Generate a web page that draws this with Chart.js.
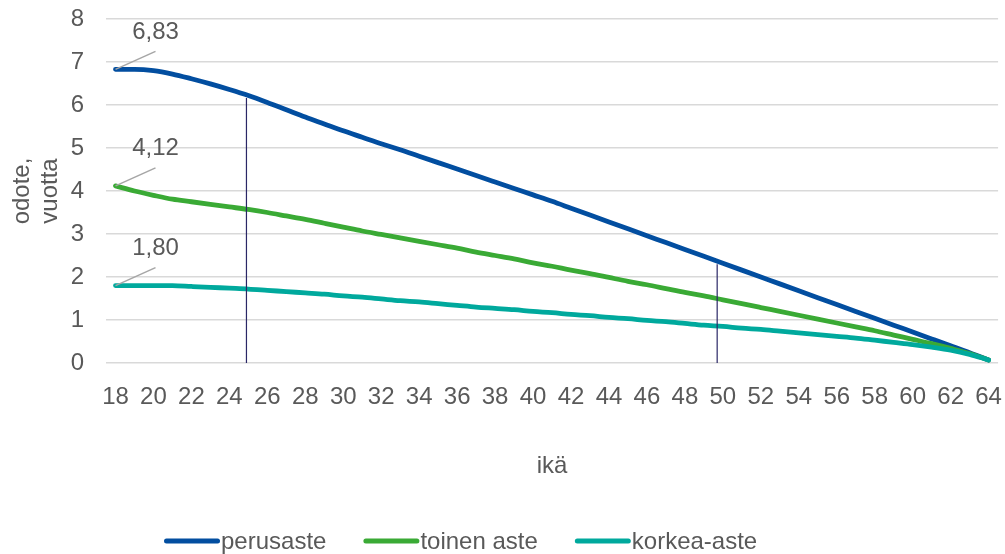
<!DOCTYPE html>
<html>
<head>
<meta charset="utf-8">
<script src="https://cdn.jsdelivr.net/npm/chart.js@4"></script>
<style>
  html, body { margin: 0; padding: 0; background: #fff; }
  #wrap { width: 1005px; height: 554px; }
</style>
</head>
<body>
<div id="wrap"><canvas id="odoteChart" width="1005" height="554"></canvas></div>
<script>
// ikä 18..64
const ages = [];
for (let a = 18; a <= 64; a++) ages.push(String(a));

const perusaste = [6.83, 6.83, 6.80, 6.72, 6.61, 6.49, 6.36, 6.22, 6.06, 5.89,
  5.72, 5.56, 5.40, 5.25, 5.10, 4.96, 4.81, 4.66, 4.51, 4.36,
  4.21, 4.06, 3.91, 3.76, 3.60, 3.44, 3.28, 3.12, 2.96, 2.80,
  2.64, 2.48, 2.32, 2.16, 2.00, 1.84, 1.68, 1.52, 1.36, 1.20,
  1.04, 0.88, 0.72, 0.56, 0.40, 0.24, 0.07];
const toinenAste = [4.12, 4.00, 3.90, 3.81, 3.75, 3.69, 3.63, 3.57, 3.50, 3.42,
  3.34, 3.25, 3.16, 3.07, 2.99, 2.91, 2.83, 2.75, 2.67, 2.58,
  2.50, 2.42, 2.33, 2.25, 2.16, 2.08, 1.99, 1.90, 1.82, 1.73,
  1.64, 1.56, 1.47, 1.38, 1.29, 1.20, 1.11, 1.02, 0.93, 0.84,
  0.75, 0.65, 0.55, 0.45, 0.34, 0.22, 0.07];
const korkeaAste = [1.80, 1.80, 1.80, 1.80, 1.78, 1.76, 1.74, 1.72, 1.69, 1.66,
  1.63, 1.60, 1.56, 1.53, 1.49, 1.45, 1.42, 1.38, 1.34, 1.30,
  1.27, 1.24, 1.20, 1.17, 1.13, 1.10, 1.06, 1.03, 0.99, 0.96,
  0.92, 0.88, 0.85, 0.81, 0.78, 0.74, 0.70, 0.66, 0.62, 0.58,
  0.53, 0.48, 0.43, 0.37, 0.30, 0.20, 0.07];

const seriesNames = ['perusaste', 'toinen aste', 'korkea-aste'];
const seriesColors = ['#024ea0', '#3aaa35', '#00a99d'];
const yTicks = [0, 1, 2, 3, 4, 5, 6, 7, 8];
// pystyviivat perusasteen käyrältä nollaan
const markerAges = [24.9, 49.7];

const textColor = '#595959';
const fontFamily = '"Liberation Sans", Arial, sans-serif';
const fontSize = 24;

function fmt(v) {
  return v.toFixed(2).replace('.', ',');
}

// arvo murtoindeksin kohdalla
function valueAt(data, idx) {
  const i = Math.floor(idx);
  const t = idx - i;
  if (i >= data.length - 1) return data[data.length - 1];
  return data[i] + (data[i + 1] - data[i]) * t;
}

const markerLines = {
  id: 'markerLines',
  afterDatasetsDraw(chart) {
    const { ctx, scales: { x, y } } = chart;
    ctx.save();
    ctx.strokeStyle = '#2a2766';
    ctx.lineWidth = 1.2;
    markerAges.forEach(age => {
      const idx = age - 18;
      const px = x.getPixelForValue(idx);
      ctx.beginPath();
      ctx.moveTo(px, y.getPixelForValue(valueAt(perusaste, idx)) + 3);
      ctx.lineTo(px, y.getPixelForValue(0));
      ctx.stroke();
    });
    ctx.restore();
  }
};

// alkupisteen arvot ja johtoviivat
const startLabels = {
  id: 'startLabels',
  afterDatasetsDraw(chart) {
    const { ctx } = chart;
    ctx.save();
    chart.data.datasets.forEach((ds, i) => {
      const pt = chart.getDatasetMeta(i).data[0];
      ctx.strokeStyle = '#a6a6a6';
      ctx.lineWidth = 1.5;
      ctx.beginPath();
      ctx.moveTo(pt.x, pt.y);
      ctx.lineTo(pt.x + 40, pt.y - 18);
      ctx.stroke();
      ctx.fillStyle = textColor;
      ctx.font = fontSize + 'px ' + fontFamily;
      ctx.textAlign = 'center';
      ctx.textBaseline = 'middle';
      ctx.fillText(fmt(ds.data[0]), pt.x + 40, pt.y - 37);
    });
    ctx.restore();
  }
};

const bottomLegend = {
  id: 'bottomLegend',
  afterDraw(chart) {
    const { ctx } = chart;
    ctx.save();
    ctx.font = fontSize + 'px ' + fontFamily;
    ctx.textBaseline = 'middle';
    ctx.textAlign = 'left';
    let x = 164;
    const y = 541;
    seriesNames.forEach((name, i) => {
      ctx.strokeStyle = seriesColors[i];
      ctx.lineWidth = 5;
      ctx.lineCap = 'round';
      ctx.beginPath();
      ctx.moveTo(x + 2.5, y);
      ctx.lineTo(x + 53.5, y);
      ctx.stroke();
      ctx.fillStyle = textColor;
      ctx.fillText(name, x + 57, y + 1);
      x += 57 + ctx.measureText(name).width + 37;
    });
    ctx.restore();
  }
};

const seriesData = [perusaste, toinenAste, korkeaAste];

new Chart(document.getElementById('odoteChart').getContext('2d'), {
  type: 'line',
  data: {
    labels: ages,
    datasets: seriesData.map((d, i) => ({
      label: seriesNames[i],
      data: d,
      borderColor: seriesColors[i],
      backgroundColor: seriesColors[i],
      borderWidth: 4.8,
      borderCapStyle: 'round',
      borderJoinStyle: 'round',
      pointRadius: 0,
      cubicInterpolationMode: 'monotone',
      order: 3 - i
    }))
  },
  options: {
    responsive: false,
    animation: false,
    layout: { padding: { top: 19, right: 6, left: 0, bottom: 0 } },
    plugins: {
      legend: { display: false },
      tooltip: { enabled: false }
    },
    scales: {
      x: {
        offset: true,
        grid: { display: false, drawTicks: true, tickLength: 17 },
        border: { display: false },
        ticks: {
          autoSkip: false,
          maxRotation: 0,
          padding: 3,
          color: textColor,
          font: { size: fontSize, family: fontFamily },
          callback: (v, i) => (i % 2 === 0 ? ages[i] : '')
        },
        title: {
          display: true,
          text: 'ikä',
          color: textColor,
          font: { size: fontSize, family: fontFamily },
          padding: { top: 0, bottom: 73 }
        },
        afterFit: s => { s.height = 191; }
      },
      y: {
        min: 0,
        max: 8,
        afterBuildTicks: s => { s.ticks = yTicks.map(v => ({ value: v })); },
        grid: { color: '#d9d9d9', lineWidth: 1.5, tickLength: 22, tickColor: 'rgba(0,0,0,0)' },
        border: { display: false },
        ticks: {
          padding: 0,
          color: textColor,
          font: { size: fontSize, family: fontFamily }
        },
        title: {
          display: true,
          text: ['odote,', 'vuotta'],
          color: textColor,
          font: { size: fontSize, family: fontFamily, lineHeight: 1.15 },
          padding: { top: 9, bottom: 0 }
        },
        afterFit: s => { s.width = 106; }
      }
    }
  },
  plugins: [markerLines, startLabels, bottomLegend]
});
</script>
</body>
</html>
